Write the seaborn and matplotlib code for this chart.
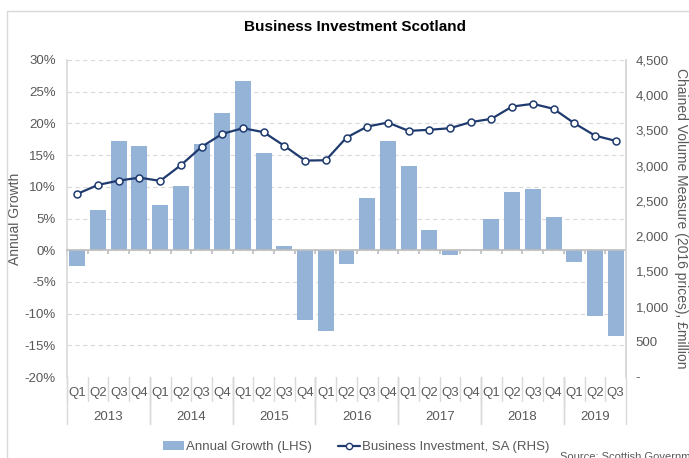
import matplotlib
matplotlib.use('Agg')
import matplotlib.pyplot as plt
import matplotlib.ticker as mticker
from matplotlib.lines import Line2D
from matplotlib.patches import Patch, Rectangle
import numpy as np
import pandas as pd
import seaborn as sns

# Business investment Scotland, 2013 Q1 - 2019 Q3
years = [2013, 2014, 2015, 2016, 2017, 2018, 2019]
quarters = ['Q1', 'Q2', 'Q3', 'Q4']
n_last_year = 3  # 2019 only up to Q3

growth = [-2.5, 6.3, 17.2, 16.4, 7.2, 10.2, 16.8, 21.7, 26.7, 15.4, 0.6, -11.0,
          -12.8, -2.2, 8.3, 17.3, 13.3, 3.2, -0.7, 0.1, 5.0, 9.2, 9.6, 5.2,
          -1.8, -10.4, -13.5]
invest = [2600, 2727, 2788, 2830, 2784, 3007, 3267, 3452, 3532, 3475, 3281, 3072,
          3077, 3399, 3555, 3612, 3494, 3509, 3532, 3618, 3665, 3839, 3878, 3807,
          3603, 3427, 3352]

lbl_year, lbl_q = [], []
for y in years:
    qs = quarters if y != years[-1] else quarters[:n_last_year]
    for q in qs:
        lbl_year.append(y)
        lbl_q.append(q)

df = pd.DataFrame({'year': lbl_year, 'q': lbl_q, 'growth': growth, 'invest': invest})
df['period'] = df['year'].astype(str) + ' ' + df['q']
df['pos'] = np.arange(len(df))

bar_col = '#95B3D7'
line_col = '#1F3A6E'
grey_txt = '#595959'
grey_ln = '#D9D9D9'

sns.set_theme(style='white')
plt.rcParams['font.family'] = ['Liberation Sans', 'DejaVu Sans']

fig = plt.figure(figsize=(6.89, 4.58), dpi=100)
W, H = 689, 458
ax = fig.add_axes([67 / W, 1 - 377 / H, (626 - 67) / W, (377 - 60) / H])

# frame around the chart
fig.patches.append(Rectangle((7 / W, -0.1), 1.2, 1 - 11 / H + 0.1, transform=fig.transFigure,
                             fill=False, edgecolor=grey_ln, linewidth=1))

sns.barplot(data=df, x='period', y='growth', order=df['period'], color=bar_col,
            width=0.77, saturation=1, edgecolor='none', ax=ax, zorder=2)
ax.set_ylim(-20, 30)
ax.set_xlim(-0.5, len(df) - 0.5)
ax.set_yticks(np.arange(-20, 31, 5))
ax.yaxis.set_major_formatter(mticker.FuncFormatter(lambda v, p: f'{v:.0f}%'))
ax.tick_params(axis='y', length=0, labelsize=9.5, labelcolor=grey_txt, pad=8)
ax.grid(axis='y', color=grey_ln, linestyle=(0, (4, 3)), linewidth=0.8)
ax.set_axisbelow(True)
ax.set_ylabel('Annual Growth', fontsize=10, color=grey_txt)
ax.yaxis.set_label_coords(-0.08, 0.5)
ax.set_xlabel('')

ax.spines['top'].set_visible(False)
ax.spines['left'].set_color(grey_ln)
ax.spines['right'].set_color(grey_ln)
ax.spines['bottom'].set_position(('data', 0))
ax.spines['bottom'].set_color('#BFBFBF')
ax.set_xticks(np.arange(len(df) + 1) - 0.5)
ax.set_xticklabels([])
ax.tick_params(axis='x', length=3, color='#BFBFBF', direction='out', bottom=True)

# category labels under the plot
trans = matplotlib.transforms.blended_transform_factory(ax.transData, fig.transFigure)
y_q = 1 - 393 / H
y_y = 1 - 417 / H
y_top = 1 - 377 / H
for i, row in df.iterrows():
    fig.text(row['pos'], y_q, row['q'], transform=trans, ha='center', va='center',
             fontsize=9.5, color=grey_txt)
    fig.add_artist(Line2D([row['pos'] - 0.5] * 2, [y_top, 1 - 401 / H], transform=trans,
                          color=grey_ln, linewidth=1))
starts = df.groupby('year')['pos'].agg(['min', 'max'])
for y, r in starts.iterrows():
    fig.text((r['min'] + r['max']) / 2, y_y, str(y), transform=trans, ha='center',
             va='center', fontsize=9.5, color=grey_txt)
    for xb in [r['min'] - 0.5, r['max'] + 0.5]:
        fig.add_artist(Line2D([xb, xb], [y_top, 1 - 424 / H], transform=trans,
                              color=grey_ln, linewidth=1))

# right axis: level of business investment
ax2 = ax.twinx()
sns.lineplot(data=df, x='pos', y='invest', color=line_col, linewidth=1.6, marker='o',
             markersize=5, markerfacecolor='white', markeredgecolor=line_col,
             markeredgewidth=1.1, ax=ax2, zorder=3)
ax2.set_ylim(0, 4500)
ax2.set_yticks(np.arange(0, 4501, 500))
ax2.yaxis.set_major_formatter(mticker.FuncFormatter(lambda v, p: '-' if v == 0 else f'{v:,.0f}'))
ax2.tick_params(axis='y', length=0, labelsize=9.5, labelcolor=grey_txt, pad=7)
ax2.set_ylabel('Chained Volume Measure (2016 prices), £million', fontsize=10,
               color=grey_txt, rotation=270, labelpad=14)
ax2.set_xlim(-0.5, len(df) - 0.5)
ax2.set_xlabel('')
ax2.grid(False)
for s in ['top', 'bottom', 'left']:
    ax2.spines[s].set_visible(False)
ax2.spines['right'].set_color(grey_ln)

fig.text(355 / W, 1 - 27 / H, 'Business Investment Scotland', ha='center', va='center',
         fontsize=11, fontweight='bold', color='black')

handles = [Patch(facecolor=bar_col, edgecolor='none'),
           Line2D([], [], color=line_col, marker='o', markersize=4.5, markerfacecolor='white',
                  markeredgecolor=line_col, linewidth=1.6)]
fig.legend(handles, ['Annual Growth (LHS)', 'Business Investment, SA (RHS)'], loc='center',
           bbox_to_anchor=(356 / W, 1 - 447 / H), ncol=2, frameon=False, fontsize=9.5,
           handlelength=1.6, handletextpad=0.15, columnspacing=2.0, labelcolor=grey_txt)

fig.text(560 / W, 1 - 457 / H, 'Source: Scottish Government', ha='left', va='center',
         fontsize=8, color=grey_txt)

fig.savefig('out.png', dpi=100)
